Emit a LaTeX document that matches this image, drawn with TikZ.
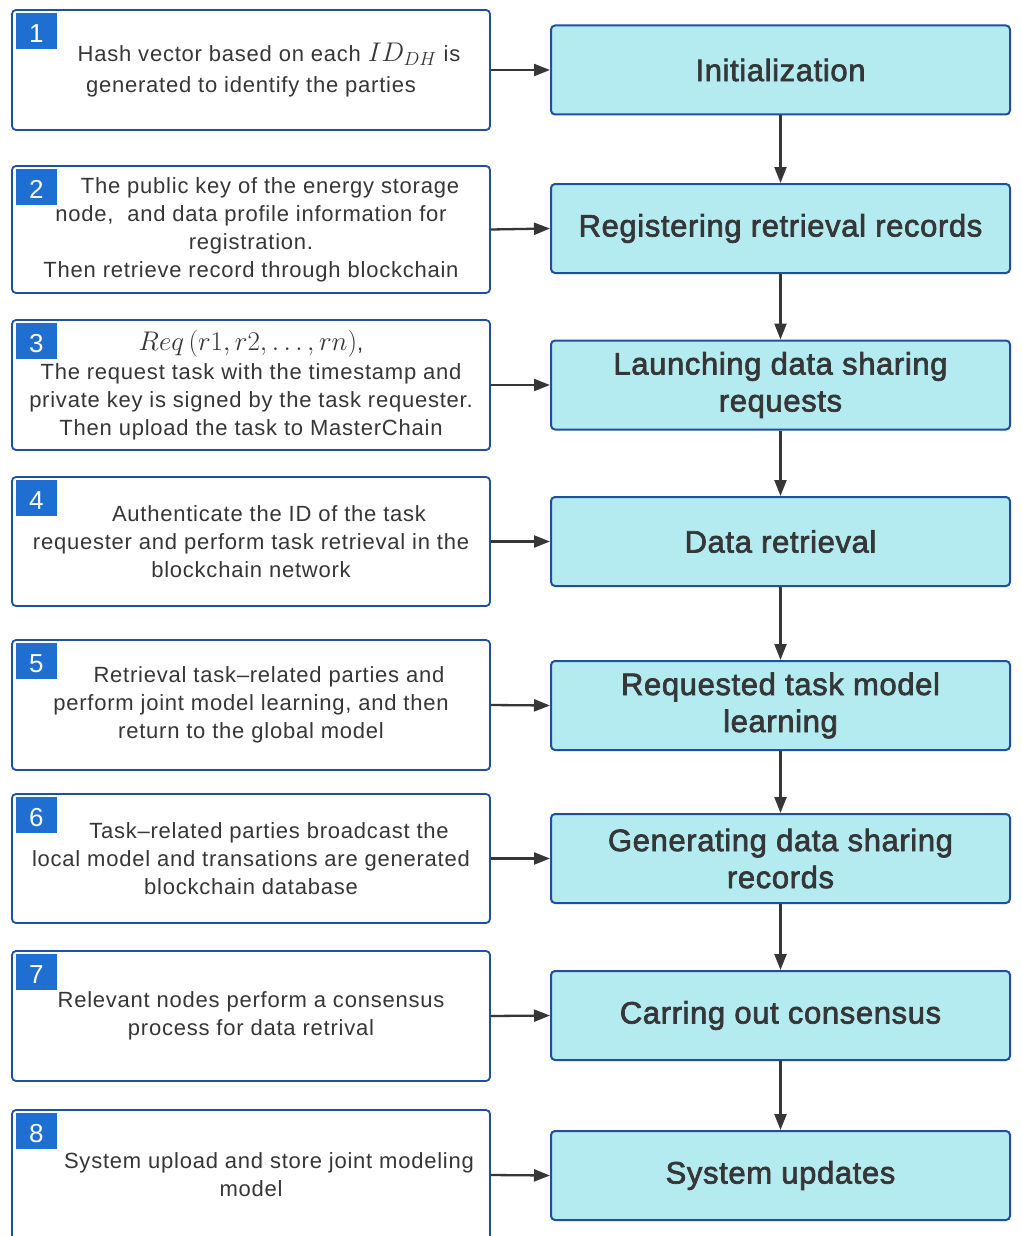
\documentclass[tikz,border=0pt]{standalone}
\usepackage{fix-cm}
\usepackage{fontspec}
\setmainfont{Liberation Sans}[LetterSpace=3.5]
\newfontfamily\titlefont{Liberation Sans}[LetterSpace=2,FakeBold=2.2]
\usetikzlibrary{arrows.meta}

\definecolor{edgeblue}{HTML}{1E4FA3}
\definecolor{fillcyan}{HTML}{B3EBF1}
\definecolor{badgeblue}{HTML}{1F6FD2}
\definecolor{inkgray}{HTML}{363636}

% formulas are set a little larger than the surrounding sans text
\newcommand{\bigmath}[1]{{\fontsize{27}{28}\selectfont$#1$}}

\tikzset{
  stepnote/.style={draw=edgeblue, line width=1.8pt, rounded corners=4pt, fill=white,
    minimum width=478pt, text=inkgray, align=center, inner sep=0pt,
    font=\fontsize{22}{28}\selectfont},
  phase/.style={draw=edgeblue, line width=2pt, rounded corners=4pt, fill=fillcyan,
    minimum width=459pt, minimum height=89pt, text=inkgray, align=center, inner sep=0pt,
    font=\titlefont\fontsize{31}{37}\selectfont},
  badge/.style={fill=badgeblue, text=white, minimum width=41pt, minimum height=36pt,
    inner sep=0pt, anchor=north west, xshift=4.5pt, yshift=-3.5pt,
    font=\fontsize{26}{26}\selectfont},
  flow/.style={draw=inkgray, line width=2.3pt, -{Triangle[length=16pt,width=12pt]}}
}

\begin{document}
\begin{tikzpicture}[x=1pt,y=-1pt]
\useasboundingbox (0,0) rectangle (1021,1236);
\clip (0,0) rectangle (1021,1236);

% step descriptions (left column)
\node[stepnote, minimum height=120pt] (n1) at (251,70)
  {\hspace*{36pt}Hash vector based on each \bigmath{ID_{DH}} is\\[3pt]generated to identify the parties};
\node[stepnote, minimum height=127pt] (n2) at (251,229.5)
  {\hspace*{38pt}The public key of the energy storage\\node,\ \ and data profile information for\\registration.\\Then retrieve record through blockchain};
\node[stepnote, minimum height=130pt] (n3) at (251,385)
  {\bigmath{Req\,(r1, r2, \ldots, rn)},\\[1pt]The request task with the timestamp and\\private key is signed by the task requester.\\Then upload the task to MasterChain};
\node[stepnote, minimum height=129pt] (n4) at (251,541.5)
  {\hspace*{36pt}Authenticate the ID of the task\\requester and perform task retrieval in the\\blockchain network};
\node[stepnote, minimum height=130pt] (n5) at (251,705)
  {\hspace*{36pt}Retrieval task–related parties and\\perform joint model learning, and then\\return to the global model};
\node[stepnote, minimum height=129pt] (n6) at (251,858.5)
  {\hspace*{36pt}Task–related parties broadcast the\\local model and transations are generated\\blockchain database};
\node[stepnote, minimum height=130pt] (n7) at (251,1016)
  {Relevant nodes perform a consensus\\process for data retrival};
\node[stepnote, minimum height=130pt] (n8) at (251,1175)
  {\hspace*{36pt}System upload and store joint modeling\\model};

% numbered badges (digit sits slightly below the square's centre)
\foreach \k in {1,...,8}
  \node[badge] (b\k) at (n\k.north west) {\raisebox{-3pt}[\height][0pt]{\k}};

% phases (right column)
\node[phase] (p1) at (780.5,70) {Initialization};
\node[phase] (p2) at (780.5,228.5) {Registering retrieval records};
\node[phase] (p3) at (780.5,385) {Launching data sharing\\requests};
\node[phase] (p4) at (780.5,541.5) {Data retrieval};
\node[phase] (p5) at (780.5,705.5) {Requested task model\\learning};
\node[phase] (p6) at (780.5,858.5) {Generating data sharing\\records};
\node[phase] (p7) at (780.5,1015.5) {Carring out consensus};
\node[phase] (p8) at (780.5,1175.5) {System updates};

% connectors
\foreach \k in {1,...,8}
  \draw[flow] (n\k.east) -- (p\k.west);
\foreach \a/\b in {1/2,2/3,3/4,4/5,5/6,6/7,7/8}
  \draw[flow] (p\a.south) -- (p\b.north);
\end{tikzpicture}
\end{document}
